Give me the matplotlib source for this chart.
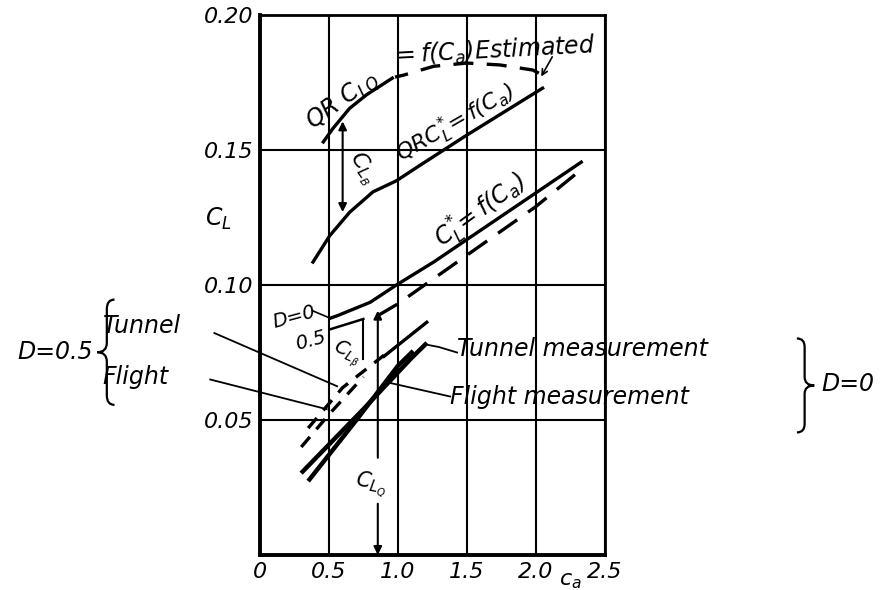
import matplotlib.pyplot as plt
from matplotlib.path import Path
from matplotlib.patches import PathPatch

plt.rcParams['font.family'] = 'DejaVu Sans'
plt.rcParams['font.style'] = 'italic'
plt.rcParams['mathtext.fontset'] = 'dejavusans'

# axis ticks
x_ticks = [0, 0.5, 1.0, 1.5, 2.0, 2.5]
x_tick_labels = ['0', '0.5', '1.0', '1.5', '2.0', '2.5']
y_ticks = [0.05, 0.10, 0.15, 0.20]
y_tick_labels = ['0.05', '0.10', '0.15', '0.20']

# QR C_LQ = f(Ca): drawn part and estimated continuation
qr_clq_ca = [0.46, 0.53, 0.65, 0.775, 0.96]
qr_clq = [0.1530, 0.1580, 0.1654, 0.1705, 0.1766]
qr_est_ca = [0.98, 1.04, 1.26, 1.50, 1.74, 1.98, 2.05]
qr_est = [0.1770, 0.1777, 0.1810, 0.1822, 0.1815, 0.1796, 0.1777]

# QR C_L* = f(Ca)
qr_cl_ca = [0.385, 0.507, 0.652, 0.82, 0.99, 1.16, 1.50, 2.05]
qr_cl = [0.1085, 0.1183, 0.1270, 0.1345, 0.1386, 0.1443, 0.1555, 0.1729]

# C_L* = f(Ca), D = 0 (solid) and D = 0.5 (start solid, rest dashed)
cl_d0_ca = [0.51, 0.56, 0.80, 0.99, 1.26, 1.96, 2.33]
cl_d0 = [0.0877, 0.0886, 0.0936, 0.1000, 0.1085, 0.1327, 0.1455]
cl_d05_start_ca = [0.51, 0.75]
cl_d05_start = [0.0836, 0.0874]
cl_d05_ca = [0.85, 1.00, 1.50, 2.00, 2.30]
cl_d05 = [0.0885, 0.0930, 0.1110, 0.1290, 0.1415]

# measurements, D = 0
tunnel_d0_ca = [0.31, 0.75, 1.10, 1.20]
tunnel_d0 = [0.0309, 0.0540, 0.0730, 0.0780]
flight_d0_ca = [0.36, 0.70, 1.00, 1.10]
flight_d0 = [0.0280, 0.0500, 0.0700, 0.0750]

# measurements, D = 0.5
tunnel_d05_ca = [0.35, 0.60, 0.90]
tunnel_d05 = [0.0470, 0.0620, 0.0740]
tunnel_d05_end_ca = [0.90, 1.21]
tunnel_d05_end = [0.0736, 0.0862]
flight_d05_ca = [0.30, 0.50, 0.75]
flight_d05 = [0.0400, 0.0520, 0.0660]

# dimension lines
clb_ca = 0.60
clb_lo, clb_hi = 0.1270, 0.1606
clbeta_ca = 0.75
clbeta_lo, clbeta_hi = 0.0725, 0.0874
clq_ca = 0.855
clq_top = 0.0905


def brace(ax, x_tip, y_mid, half_h, w, facing='left'):
    # curly brace made of quadratic curves, tip at (x_tip, y_mid)
    s = 1 if facing == 'left' else -1
    xs = x_tip + s * w
    xh = x_tip + s * 1.8 * w
    r = half_h * 0.18
    verts = [
        (xh, y_mid + half_h),
        (xs, y_mid + half_h), (xs, y_mid + half_h - r),
        (xs, y_mid + r),
        (xs, y_mid), (x_tip, y_mid),
        (xs, y_mid), (xs, y_mid - r),
        (xs, y_mid - half_h + r),
        (xs, y_mid - half_h), (xh, y_mid - half_h),
    ]
    codes = [Path.MOVETO,
             Path.CURVE3, Path.CURVE3,
             Path.LINETO,
             Path.CURVE3, Path.CURVE3,
             Path.CURVE3, Path.CURVE3,
             Path.LINETO,
             Path.CURVE3, Path.CURVE3]
    ax.add_patch(PathPatch(Path(verts, codes), fill=False, lw=1.6,
                           color='black', clip_on=False))


fig = plt.figure(figsize=(8.84, 5.9), dpi=100)
ax = fig.add_axes([0.294, 0.0593, 0.390, 0.9153])
ax.set_xlim(0, 2.5)
ax.set_ylim(0, 0.2)

ax.set_xticks(x_ticks)
ax.set_xticklabels(x_tick_labels, fontsize=16)
ax.set_yticks(y_ticks)
ax.set_yticklabels(y_tick_labels, fontsize=16)
ax.tick_params(length=0, pad=5)
ax.grid(True, color='black', lw=1.5)
for sp in ax.spines.values():
    sp.set_linewidth(2.0)
ax.spines['left'].set_linewidth(2.8)
ax.spines['bottom'].set_linewidth(2.8)

lw = 2.4
ax.plot(qr_clq_ca, qr_clq, color='black', lw=lw)
ax.plot(qr_est_ca, qr_est, color='black', lw=lw, ls=(2, (6, 4)))
ax.plot(qr_cl_ca, qr_cl, color='black', lw=lw)
ax.plot(cl_d0_ca, cl_d0, color='black', lw=lw)
ax.plot(cl_d05_start_ca, cl_d05_start, color='black', lw=1.8)
ax.plot(cl_d05_ca, cl_d05, color='black', lw=lw, ls=(0, (7, 4)))
ax.plot(tunnel_d0_ca, tunnel_d0, color='black', lw=3.2)
ax.plot(flight_d0_ca, flight_d0, color='black', lw=3.2)
ax.plot(tunnel_d05_ca, tunnel_d05, color='black', lw=lw, ls=(0, (4, 3)))
ax.plot(tunnel_d05_end_ca, tunnel_d05_end, color='black', lw=lw)
ax.plot(flight_d05_ca, flight_d05, color='black', lw=lw, ls=(0, (4, 3)))

arr = dict(arrowstyle='-|>', color='black', lw=1.5, mutation_scale=12,
           shrinkA=0, shrinkB=0)
both = dict(arrowstyle='<|-|>', color='black', lw=1.5, mutation_scale=12,
            shrinkA=0, shrinkB=0)
ax.annotate('', xy=(clb_ca, clb_hi), xytext=(clb_ca, clb_lo), arrowprops=both)
ax.plot([clbeta_ca, clbeta_ca], [clbeta_lo, clbeta_hi], color='black', lw=1.5)
ax.annotate('', xy=(clq_ca, clq_top), xytext=(clq_ca, 0.036), arrowprops=arr)
ax.annotate('', xy=(clq_ca, 0.0), xytext=(clq_ca, 0.019), arrowprops=arr,
            annotation_clip=False)

# curve labels
ax.text(0.60, 0.1680, r'QR $C_{LQ}$', fontsize=17, rotation=36,
        ha='center', va='center')
ax.text(0.95, 0.1865, r'$=f(C_a)$Estimated', fontsize=17, rotation=3,
        ha='left', va='center', clip_on=False)
ax.annotate('', xy=(2.04, 0.1772), xytext=(2.12, 0.1845),
            arrowprops=dict(arrowstyle='->', color='black', lw=1.2,
                            shrinkA=0, shrinkB=0))
ax.text(1.42, 0.1600, r'$QRC_L^{*}\!=f(C_a)$', fontsize=16, rotation=30,
        ha='center', va='center')
ax.text(0.74, 0.1435, r'$C_{L_B}$', fontsize=16, rotation=-55,
        ha='center', va='center')
ax.text(1.60, 0.1275, r'$C_L^{*}\!=f(C_a)$', fontsize=17, rotation=36,
        ha='center', va='center')
ax.text(-0.30, 0.1245, r'$C_L$', fontsize=17, ha='center', va='center',
        clip_on=False)
ax.text(2.25, -0.0095, r'$c_a$', fontsize=16, ha='center', va='center',
        clip_on=False)

ax.text(0.25, 0.0880, 'D=0', fontsize=14, rotation=15, ha='center',
        va='center', clip_on=False)
ax.plot([0.38, 0.51], [0.0905, 0.0877], color='black', lw=1.2)
ax.text(0.37, 0.0795, '0.5', fontsize=14, rotation=15, ha='center',
        va='center')
ax.text(0.63, 0.0745, r'$C_{L_\beta}$', fontsize=14, rotation=-25,
        ha='center', va='center')
ax.text(0.81, 0.0265, r'$C_{L_Q}$', fontsize=15, rotation=-10,
        ha='center', va='center')

# D = 0.5 key on the left
ax.text(-1.21, 0.0751, 'D=0.5', fontsize=17, ha='right', va='center',
        clip_on=False)
brace(ax, -1.18, 0.0751, 0.0195, 0.07, 'left')
ax.text(-1.14, 0.0850, 'Tunnel', fontsize=17, ha='left', va='center',
        clip_on=False)
ax.text(-1.14, 0.0658, 'Flight', fontsize=17, ha='left', va='center',
        clip_on=False)
ax.plot([-0.33, 0.56], [0.0822, 0.0625], color='black', lw=1.3,
        clip_on=False)
ax.plot([-0.36, 0.485], [0.0650, 0.0540], color='black', lw=1.3,
        clip_on=False)

# D = 0 key on the right
ax.text(1.43, 0.0762, 'Tunnel measurement', fontsize=17, ha='left',
        va='center', clip_on=False)
ax.text(1.38, 0.0584, 'Flight measurement', fontsize=17, ha='left',
        va='center', clip_on=False)
ax.plot([1.20, 1.30, 1.43], [0.0780, 0.0770, 0.0750], color='black',
        lw=1.3, clip_on=False)
ax.plot([0.92, 1.38], [0.0640, 0.0587], color='black', lw=1.3,
        clip_on=False)
brace(ax, 4.02, 0.0628, 0.0174, 0.07, 'right')
ax.text(4.07, 0.0632, 'D=0', fontsize=17, ha='left', va='center',
        clip_on=False)

fig.savefig('out.png', dpi=100)
